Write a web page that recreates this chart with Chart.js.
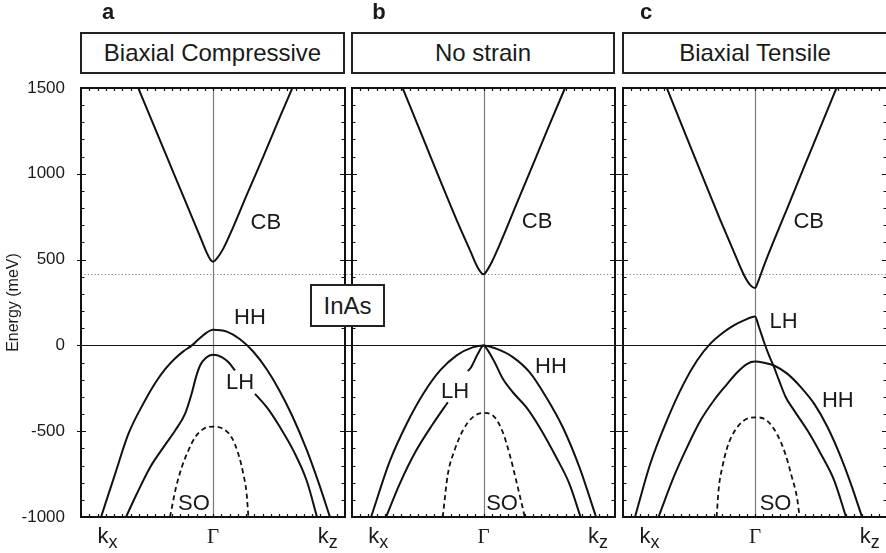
<!DOCTYPE html>
<html>
<head>
<meta charset="utf-8">
<script src="https://cdn.jsdelivr.net/npm/chart.js@4.4.0/dist/chart.umd.min.js"></script>
<style>
  html, body { margin: 0; padding: 0; background: #fff; overflow: hidden; }
  #wrap { position: relative; width: 886px; height: 553px; overflow: hidden;
          font-family: 'Liberation Sans', Arial, sans-serif; color: #1a1a1a; }
  canvas { position: absolute; left: 0; top: 0; }
  .letter { position: absolute; top: 1px; width: 30px; text-align: center;
            font-weight: bold; font-size: 22px; line-height: 22px; }
  .head { position: absolute; top: 32px; height: 42px; box-sizing: border-box;
          border: 2px solid #222; background: #fff; text-align: center;
          font-size: 24px; line-height: 38px; }
  #inas { position: absolute; left: 310px; top: 284px; width: 75px; height: 43px;
          box-sizing: border-box; border: 2px solid #222; background: #fff;
          text-align: center; font-size: 24px; line-height: 39px; z-index: 5; }
</style>
</head>
<body>
<div id="wrap">
  <canvas id="pa" width="890" height="553"></canvas>
  <canvas id="pb" width="890" height="553"></canvas>
  <canvas id="pc" width="890" height="553"></canvas>
  <div id="inas">InAs</div>
</div>
<script>
// panels
const panelLetters = ['a', 'b', 'c'];
const panelTitles = ['Biaxial Compressive', 'No strain', 'Biaxial Tensile'];

// k axis: -1 = k_x edge, 0 = Gamma, 1 = k_z edge
const kTickPos = [-0.8, 0, 0.87];
const kTickLabels = [['k', 'x'], ['Γ', ''], ['k', 'z']];

const gapEnergy = 417; // meV, dotted line

// band energies (k, meV) -- biaxial compressive
const compCB = [[-0.566,1500],[-0.45,1285],[-0.35,1100],[-0.25,915],[-0.15,730],[-0.1,638],[-0.05,545],[-0.02,500],[0,488],
  [0.028,506],[0.078,564],[0.154,691],[0.255,876],[0.381,1100],[0.508,1333],[0.601,1500]];
const compHH = [[-0.848,-1000],[-0.742,-750],[-0.641,-516],[-0.515,-321],[-0.44,-222],[-0.364,-140],[-0.29,-78],
  [-0.225,-35],[-0.16,0],[-0.124,25],[-0.08,55],[-0.048,75],[0,91],[0.104,80],[0.205,36],[0.306,-37],
  [0.407,-139],[0.5,-258],[0.6,-410],[0.71,-609],[0.8,-800],[0.886,-1000]];
const compLH = [[-0.659,-1000],[-0.578,-866],[-0.477,-711],[-0.376,-594],[-0.288,-497],[-0.212,-399],[-0.162,-282],
  [-0.129,-185],[-0.098,-117],[-0.053,-72],[0,-55],[0.066,-68],[0.116,-97],[0.167,-146],[0.24,null],
  [0.318,-282],[0.407,-360],[0.508,-477],[0.609,-613],[0.71,-789],[0.788,-1000]];
const compSO = [[-0.326,-1000],[-0.28,-827],[-0.237,-711],[-0.187,-613],[-0.136,-536],[-0.073,-487],[0,-473],
  [0.078,-487],[0.141,-536],[0.192,-633],[0.23,-750],[0.255,-866],[0.268,-1000]];

// no strain
const noneCB = [[-0.615,1500],[-0.458,1205],[-0.33,963],[-0.204,730],[-0.103,555],[-0.04,448],[0,414],
  [0.019,428],[0.063,486],[0.127,594],[0.253,827],[0.38,1061],[0.506,1294],[0.62,1500]];
const noneHH = [[-0.855,-1000],[-0.711,-672],[-0.585,-458],[-0.458,-282],[-0.33,-146],[-0.204,-58],[-0.078,-10],[0,0],
  [0.096,-19],[0.223,-68],[0.35,-156],[0.477,-302],[0.603,-477],[0.73,-711],[0.856,-1000]];
const noneLH = [[-0.741,-1000],[-0.638,-808],[-0.512,-613],[-0.385,-458],[-0.271,-331],[-0.2,null],[-0.119,-150],
  [-0.094,-127],[-0.043,-49],[0,0],[0.033,-29],[0.084,-97],[0.147,-195],[0.223,-273],[0.325,-360],
  [0.426,-477],[0.553,-652],[0.654,-808],[0.738,-1000]];
const noneSO = [[-0.31,-1000],[-0.271,-750],[-0.221,-613],[-0.157,-496],[-0.081,-418],[0,-393],
  [0.084,-418],[0.147,-506],[0.198,-633],[0.249,-789],[0.314,-1000]];

// biaxial tensile
const tensCB = [[-0.668,1500],[-0.516,1210],[-0.39,970],[-0.265,735],[-0.16,545],[-0.085,412],[-0.034,350],[0,335],
  [0.03,385],[0.068,465],[0.143,610],[0.245,800],[0.372,1040],[0.498,1276],[0.617,1500]];
const tensLH = [[-0.909,-1000],[-0.794,-691],[-0.668,-438],[-0.541,-224],[-0.439,-88],[-0.338,10],[-0.236,78],
  [-0.16,117],[-0.084,146],[0,169],[0.03,107],[0.068,20],[0.106,-58],[0.144,-127],[0.182,-204],[0.233,-302],
  [0.297,-380],[0.398,-496],[0.499,-633],[0.601,-789],[0.69,-1000]];
const tensHH = [[-0.731,-1000],[-0.617,-769],[-0.515,-594],[-0.413,-438],[-0.312,-321],[-0.21,-224],[-0.134,-156],
  [-0.058,-107],[0,-94],[0.068,-101],[0.144,-117],[0.246,-166],[0.347,-243],[0.449,-341],[0.55,-477],
  [0.651,-652],[0.727,-808],[0.811,-1000]];
const tensSO = [[-0.291,-1000],[-0.274,-827],[-0.248,-711],[-0.21,-594],[-0.16,-506],[-0.084,-438],[0,-419],
  [0.09,-438],[0.166,-516],[0.23,-633],[0.28,-769],[0.318,-886],[0.338,-1000]];

// band names and where they are written (k, meV)
const compLabels = [['CB',0.40,712],['HH',0.28,158],['LH',0.205,-216],['SO',-0.144,-923]];
const noneLabels = [['CB',0.407,718],['HH',0.513,-128],['LH',-0.217,-269],['SO',0.141,-923]];
const tensLabels = [['CB',0.407,718],['LH',0.217,134],['HH',0.627,-321],['SO',0.156,-923]];

// plot-area placement of the three panels (px)
const areas = [{left: 81, right: 345}, {left: 352, right: 615}, {left: 623, right: 887}];
const areaTop = 88, areaBottom = 517;
const canvasW = 890, canvasH = 553;

const sans = '"Liberation Sans", Arial, sans-serif';
const ink = '#1a1a1a';

const toPts = arr => arr.map(([k, e]) => ({x: k, y: e}));

const bandPlugin = {
  id: 'bandFrame',
  beforeDatasetsDraw(chart) {
    const {ctx, chartArea: a, scales: {x, y}} = chart;
    ctx.save();
    // Gamma line
    const gx = Math.round(x.getPixelForValue(0)) + 0.5;
    ctx.strokeStyle = '#7a7a7a';
    ctx.lineWidth = 1.2;
    ctx.beginPath(); ctx.moveTo(gx, a.top); ctx.lineTo(gx, a.bottom); ctx.stroke();
    // zero line and band-gap line carry on through the gap between panels
    const yz = Math.round(y.getPixelForValue(0)) + 0.5;
    ctx.strokeStyle = '#111';
    ctx.lineWidth = 1;
    ctx.beginPath(); ctx.moveTo(a.left, yz); ctx.lineTo(a.right + 8, yz); ctx.stroke();
    const yg = Math.round(y.getPixelForValue(gapEnergy)) + 0.5;
    ctx.strokeStyle = '#7d7d7d';
    ctx.setLineDash([1.2, 2.2]);
    ctx.beginPath(); ctx.moveTo(a.left, yg); ctx.lineTo(a.right + 8, yg); ctx.stroke();
    ctx.restore();
  },
  afterDatasetsDraw(chart, args, opts) {
    const {ctx, chartArea: a, scales: {x, y}} = chart;
    ctx.save();
    ctx.strokeStyle = '#111';
    // energy ticks on both sides
    ctx.lineWidth = 1.2;
    for (let v = -900; v < 1500; v += 100) {
      const py = Math.round(y.getPixelForValue(v)) + 0.5;
      ctx.beginPath();
      if (v % 500 === 0) {
        ctx.moveTo(a.left - 4, py); ctx.lineTo(a.left + 5, py);
        ctx.moveTo(a.right - 5, py); ctx.lineTo(a.right + 4, py);
      } else {
        ctx.moveTo(a.left, py); ctx.lineTo(a.left + 3.5, py);
        ctx.moveTo(a.right - 3.5, py); ctx.lineTo(a.right, py);
      }
      ctx.stroke();
    }
    // k ticks top and bottom
    for (let i = 1; i < 32; i++) {
      const px = Math.round(x.getPixelForValue(-1 + i / 16)) + 0.5;
      ctx.beginPath();
      ctx.moveTo(px, a.top); ctx.lineTo(px, a.top + 3);
      ctx.moveTo(px, a.bottom - 3); ctx.lineTo(px, a.bottom);
      ctx.stroke();
    }
    // frame
    ctx.lineWidth = 2;
    ctx.strokeRect(a.left, a.top, a.right - a.left, a.bottom - a.top);

    // band names
    ctx.fillStyle = ink;
    ctx.font = '22px ' + sans;
    ctx.textAlign = 'center';
    ctx.textBaseline = 'middle';
    opts.labels.forEach(([t, k, e]) => {
      ctx.fillText(t, x.getPixelForValue(k), y.getPixelForValue(e));
    });

    // k axis labels
    ctx.textBaseline = 'alphabetic';
    ctx.textAlign = 'left';
    kTickLabels.forEach(([main, sub], j) => {
      const px = x.getPixelForValue(kTickPos[j]);
      if (sub) {
        ctx.font = '22px ' + sans;
        const w1 = ctx.measureText(main).width;
        ctx.font = '18px ' + sans;
        const w2 = ctx.measureText(sub).width;
        const x0 = px - (w1 + w2) / 2;
        ctx.font = '22px ' + sans;
        ctx.fillText(main, x0, 543);
        ctx.font = '18px ' + sans;
        ctx.fillText(sub, x0 + w1, 548);
      } else {
        ctx.font = '21px "Liberation Serif", "Times New Roman", serif';
        const w = ctx.measureText(main).width;
        ctx.fillText(main, px - w / 2, 543);
      }
    });
    ctx.restore();
  }
};

function bandSet(data, dashed) {
  return {
    data: toPts(data),
    borderColor: '#111',
    borderWidth: dashed ? 1.8 : 2,
    borderDash: dashed ? [5, 3.5] : [],
    pointRadius: 0,
    fill: false,
    spanGaps: false,
    cubicInterpolationMode: 'monotone'
  };
}

function makePanel(id, i, bands, labels) {
  const area = areas[i];
  const first = i === 0;
  const yScale = {
    type: 'linear', min: -1000, max: 1500,
    display: first,
    grid: {display: false},
    border: {display: false},
    ticks: {
      stepSize: 500,
      padding: 8,
      color: ink,
      font: {family: sans, size: 17},
      callback: v => String(v)
    },
    title: {
      display: true,
      text: 'Energy (meV)',
      color: ink,
      font: {family: sans, size: 16}
    }
  };
  // only the first panel carries the energy axis; pin its width
  if (first) yScale.afterFit = scale => { scale.width = area.left; };

  new Chart(document.getElementById(id), {
    type: 'line',
    data: {
      datasets: [
        bandSet(bands[0], false),
        bandSet(bands[1], false),
        bandSet(bands[2], false),
        bandSet(bands[3], true)
      ]
    },
    options: {
      responsive: false,
      animation: false,
      events: [],
      layout: {
        padding: {
          left: first ? 0 : area.left,
          right: canvasW - area.right,
          top: areaTop,
          bottom: canvasH - areaBottom
        }
      },
      plugins: {
        legend: {display: false},
        tooltip: {enabled: false},
        bandFrame: {labels: labels}
      },
      scales: {
        x: {type: 'linear', min: -1, max: 1, display: false},
        y: yScale
      }
    },
    plugins: [bandPlugin]
  });
}

makePanel('pa', 0, [compCB, compHH, compLH, compSO], compLabels);
makePanel('pb', 1, [noneCB, noneHH, noneLH, noneSO], noneLabels);
makePanel('pc', 2, [tensCB, tensLH, tensHH, tensSO], tensLabels);

// panel letters and boxed headings
const wrap = document.getElementById('wrap');
const letterX = [108, 379, 646];
const headBox = [[80, 345], [351, 615], [622, 888]];
panelLetters.forEach((l, i) => {
  const d = document.createElement('div');
  d.className = 'letter';
  d.style.left = (letterX[i] - 15) + 'px';
  d.textContent = l;
  wrap.appendChild(d);
  const h = document.createElement('div');
  h.className = 'head';
  h.style.left = headBox[i][0] + 'px';
  h.style.width = (headBox[i][1] - headBox[i][0]) + 'px';
  h.textContent = panelTitles[i];
  wrap.appendChild(h);
});
</script>
</body>
</html>
